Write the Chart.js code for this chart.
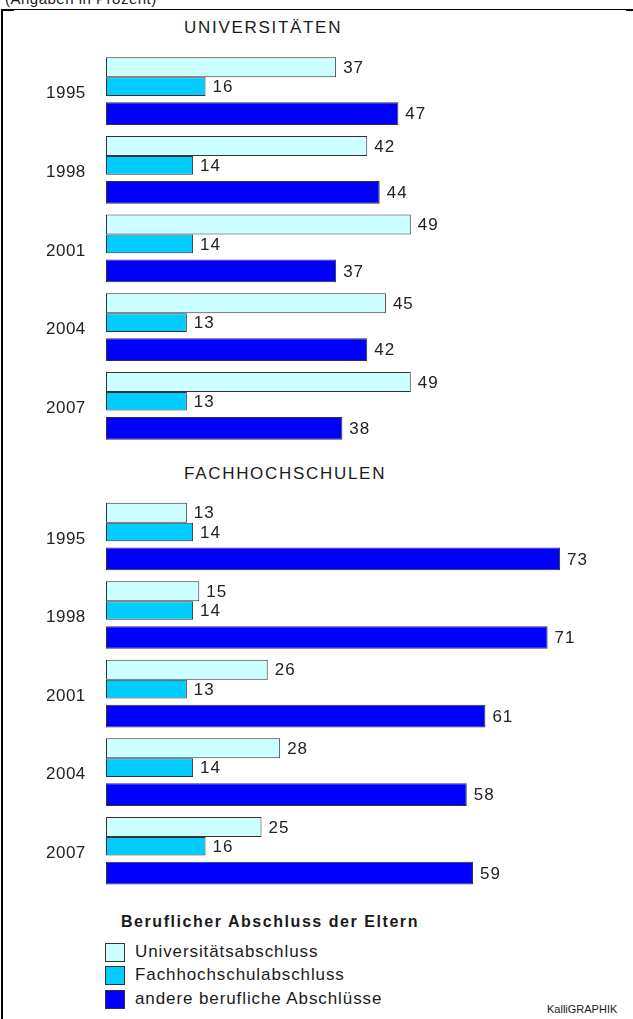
<!DOCTYPE html>
<html>
<head>
<meta charset="utf-8">
<script src="https://cdn.jsdelivr.net/npm/chart.js@4.4.1/dist/chart.umd.min.js"></script>
<style>
  html, body { margin: 0; padding: 0; background: #fff; }
  body { width: 633px; height: 1019px; position: relative; overflow: hidden;
         font-family: "Liberation Sans", Arial, sans-serif; color: #1a1a1a; }
  .abs { position: absolute; }
  .line { position: absolute; background: #000; }
  .title { position: absolute; left: 184px; font-size: 17px; line-height: 20px; letter-spacing: 1.7px; }
  #note { left: 5px; top: -10px; font-size: 15px; line-height: 17px; letter-spacing: 0.5px; }
  #legendTitle { left: 121px; top: 912px; font-size: 16px; line-height: 20px; font-weight: bold; letter-spacing: 1.55px; }
  .item { position: absolute; left: 105px; height: 20px; }
  .item .box { position: absolute; left: 0; top: 1px; width: 18px; height: 17px; border: 1px solid #333; }
  .item .txt { position: absolute; left: 30px; top: 0; font-size: 17px; line-height: 20px; letter-spacing: 0.9px; white-space: nowrap; }
  #credit { left: 547px; top: 1003px; font-size: 11px; line-height: 13px; }
</style>
</head>
<body>
<div class="abs" id="note">(Angaben in Prozent)</div>
<div class="line" style="left:1px;top:9px;width:632px;height:1px"></div>
<div class="line" style="left:1px;top:9px;width:13px;height:2px"></div>
<div class="line" style="left:626px;top:9px;width:7px;height:2px"></div>
<div class="line" style="left:1px;top:9px;width:2px;height:1010px"></div>

<div class="title" style="top:18px">UNIVERSITÄTEN</div>
<canvas id="uni" class="abs" width="633" height="420" style="left:0;top:35px"></canvas>
<div class="title" style="top:464px">FACHHOCHSCHULEN</div>
<canvas id="fh" class="abs" width="633" height="420" style="left:0;top:480px"></canvas>

<div class="abs" id="legendTitle">Beruflicher Abschluss der Eltern</div>
<div id="legend"></div>
<div class="abs" id="credit">KalliGRAPHIK</div>

<script>
const years = ['1995', '1998', '2001', '2004', '2007'];
const seriesNames = ['Universitätsabschluss', 'Fachhochschulabschluss', 'andere berufliche Abschlüsse'];
const seriesColors = ['#ccffff', '#00ccff', '#0000ff'];

// Universitäten
const uniAkad = [37, 42, 49, 45, 49];
const uniFh = [16, 14, 14, 13, 13];
const uniAndere = [47, 44, 37, 42, 38];

// Fachhochschulen
const fhAkad = [13, 15, 26, 28, 25];
const fhFh = [14, 14, 13, 14, 16];
const fhAndere = [73, 71, 61, 58, 59];

const FONT = '"Liberation Sans", Arial, sans-serif';

// Zahlen rechts neben den Balken
const valueLabels = {
    id: 'valueLabels',
    beforeDraw(chart) {
        chart.ctx.letterSpacing = '0.5px';
    },
    afterDatasetsDraw(chart) {
        const ctx = chart.ctx;
        ctx.save();
        ctx.font = '17px ' + FONT;
        ctx.letterSpacing = '1px';
        ctx.fillStyle = '#222';
        ctx.textBaseline = 'middle';
        chart.data.datasets.forEach((ds, i) => {
            chart.getDatasetMeta(i).data.forEach((bar, j) => {
                ctx.fillText(ds.data[j], bar.x + 7, bar.y + 1);
            });
        });
        ctx.restore();
    }
};

// Balkenlage innerhalb einer Jahresgruppe: hell/mittel aneinander, dunkel mit Abstand
const barShape = [
    { categoryPercentage: 0.738, barPercentage: 1.034 },
    { categoryPercentage: 0.8, barPercentage: 0.891 },
    { categoryPercentage: 1.03, barPercentage: 0.841 }
];

function buildChart(id, series, padTop, padBottom) {
    return new Chart(document.getElementById(id), {
        type: 'bar',
        data: {
            labels: years,
            datasets: series.map((values, i) => ({
                label: seriesNames[i],
                data: values,
                backgroundColor: seriesColors[i],
                borderColor: '#333',
                borderWidth: 1,
                borderSkipped: false,
                categoryPercentage: barShape[i].categoryPercentage,
                barPercentage: barShape[i].barPercentage
            }))
        },
        options: {
            indexAxis: 'y',
            responsive: false,
            animation: false,
            layout: { padding: { top: padTop, bottom: padBottom, left: 46, right: 29.4 } },
            plugins: { legend: { display: false }, tooltip: { enabled: false } },
            scales: {
                x: { display: false, min: 0, max: 80 },
                y: {
                    grid: { display: false, drawTicks: false },
                    border: { display: false },
                    ticks: { padding: 0, crossAlign: 'far', labelOffset: 7, color: '#222', font: { family: FONT, size: 17 } },
                    afterFit: (scale) => { scale.width = 60; }
                }
            }
        },
        plugins: [valueLabels]
    });
}

buildChart('uni', [uniAkad, uniFh, uniAndere], 12.3, 14.4);
buildChart('fh', [fhAkad, fhFh, fhAndere], 12.7, 14.5);

// Legende
const legend = document.getElementById('legend');
seriesNames.forEach((name, i) => {
    const item = document.createElement('div');
    item.className = 'item';
    item.style.top = (942 + i * 23.3) + 'px';
    item.innerHTML = `<div class="box" style="background:${seriesColors[i]}"></div><div class="txt">${name}</div>`;
    legend.appendChild(item);
});
</script>
</body>
</html>
